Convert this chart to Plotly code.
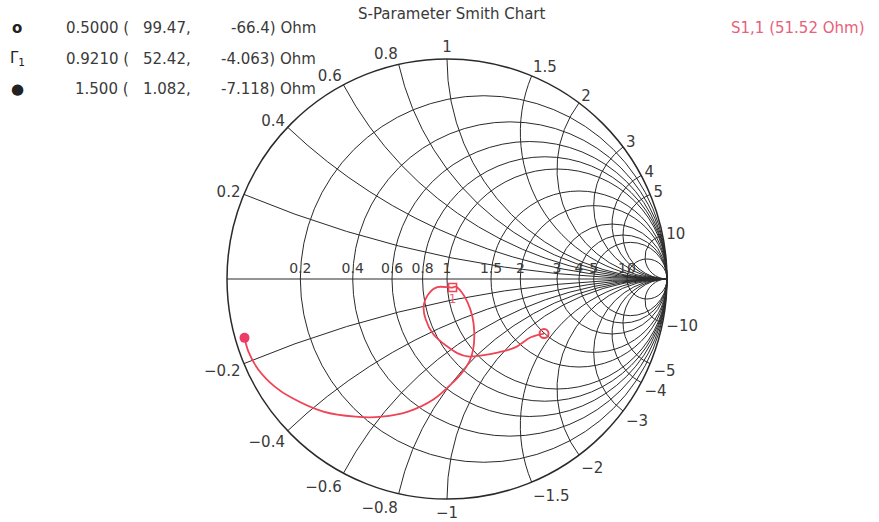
import numpy as np
import plotly.graph_objects as go

# ---------------- data ----------------
s11_re = [0.441, 0.381, 0.310, 0.235, 0.159, 0.093, 0.049, 0.000, -0.062, -0.097,
          -0.106, -0.084, -0.044, 0.024, 0.040, 0.066, 0.093, 0.115, 0.124, 0.119,
          0.102, 0.066, 0.027, -0.062, -0.177, -0.296, -0.416, -0.562, -0.708, -0.783,
          -0.858, -0.903, -0.920]
s11_im = [-0.248, -0.265, -0.311, -0.333, -0.347, -0.352, -0.338, -0.306, -0.251, -0.183,
          -0.123, -0.068, -0.037, -0.039, -0.035, -0.059, -0.105, -0.169, -0.242, -0.320,
          -0.374, -0.429, -0.470, -0.548, -0.603, -0.626, -0.626, -0.603, -0.539, -0.489,
          -0.411, -0.329, -0.267]

# markers (frequency, resistance, reactance in Ohm)
marker_freq = ["0.5000", "0.9210", "1.500"]
marker_R = [99.47, 52.42, 1.082]
marker_X = [-66.4, -4.063, -7.118]
marker_R_txt = ["99.47,", "52.42,", "1.082,"]
marker_X_txt = ["-66.4) Ohm", "-4.063) Ohm", "-7.118) Ohm"]
Z0 = 50.0

real_ticks = [0.2, 0.4, 0.6, 0.8, 1, 1.5, 2, 3, 4, 5, 10]
imag_ticks = [-10, -5, -4, -3, -2, -1.5, -1, -0.8, -0.6, -0.4, -0.2,
              0.2, 0.4, 0.6, 0.8, 1, 1.5, 2, 3, 4, 5, 10]

title_text = "S-Parameter Smith Chart"
series_text = "S1,1 (51.52 Ohm)"

# ---------------- figure ----------------
W, H = 879, 522
RED = "#ee4455"
PINK = "#e8607a"
GRID = "#2a2a2a"
TXT = "#3a3a3a"
FONT = "DejaVu Sans"
FS = 15

g = np.array(s11_re) + 1j * np.array(s11_im)
z = (1 + g) / (1 - g)

fig = go.Figure()
fig.add_trace(go.Scattersmith(real=z.real, imag=z.imag, mode="lines",
                              line=dict(color=RED, width=1.8, shape="spline", smoothing=1),
                              showlegend=False))

mr = np.array(marker_R) / Z0
mx = np.array(marker_X) / Z0
fig.add_trace(go.Scattersmith(real=[mr[0]], imag=[mx[0]], mode="markers",
                              marker=dict(symbol="circle-open", size=9, color=RED,
                                          line=dict(width=2, color=RED)),
                              showlegend=False))
fig.add_trace(go.Scattersmith(real=[mr[1]], imag=[mx[1]], mode="markers+text",
                              text=["1"], textposition="bottom center",
                              textfont=dict(color=PINK, size=12, family=FONT),
                              marker=dict(symbol="square-open", size=8, color=RED,
                                          line=dict(width=1.6, color=RED)),
                              showlegend=False))
fig.add_trace(go.Scattersmith(real=[mr[2]], imag=[mx[2]], mode="markers",
                              marker=dict(symbol="circle", size=10, color="#ec3c66"),
                              showlegend=False))

cx, cy, R = 447, 279, 220
fig.update_layout(
    width=W, height=H,
    margin=dict(l=0, r=0, t=0, b=0),
    paper_bgcolor="white",
    font=dict(family=FONT, color=TXT, size=FS),
    smith=dict(
        domain=dict(x=[(cx - R) / W, (cx + R) / W],
                    y=[1 - (cy + R) / H, 1 - (cy - R) / H]),
        bgcolor="white",
        realaxis=dict(tickvals=real_ticks, tickangle=0, gridcolor=GRID, gridwidth=1.2,
                      linecolor=GRID, linewidth=1.2, ticks="", side="top",
                      tickfont=dict(family=FONT, size=14, color=TXT)),
        imaginaryaxis=dict(tickvals=imag_ticks, gridcolor=GRID, gridwidth=1.2,
                           linecolor=GRID, linewidth=1.5, ticks="",
                           tickfont=dict(family=FONT, size=FS, color=TXT)),
    ),
)

def xp(px):
    return px / W

def yp(py):
    return 1 - py / H

# hide the automatic infinity label, which the reference chart does not show
fig.add_shape(type="rect", xref="paper", yref="paper", layer="above",
              x0=xp(cx + R + 4), x1=xp(cx + R + 30), y0=yp(cy + 12), y1=yp(cy - 12),
              fillcolor="white", line=dict(width=0))

ann = []
ann.append(dict(x=xp(452), y=yp(14), text=title_text, showarrow=False,
                font=dict(size=FS, color=TXT), xanchor="center", yanchor="middle"))
ann.append(dict(x=xp(866), y=yp(28), text=series_text, showarrow=False,
                font=dict(size=FS, color=PINK), xanchor="right", yanchor="middle"))

glyphs = ["<b>o</b>", "Γ<sub>1</sub>", "●"]
rows_y = [28, 59, 89]
for i in range(3):
    ann.append(dict(x=xp(17), y=yp(rows_y[i]), text=glyphs[i], showarrow=False,
                    font=dict(size=15, color="#222"), xanchor="center", yanchor="middle"))
    ann.append(dict(x=xp(131), y=yp(rows_y[i]), text=marker_freq[i] + " (", showarrow=False,
                    font=dict(size=FS, color=TXT), xanchor="right", yanchor="middle"))
    ann.append(dict(x=xp(193), y=yp(rows_y[i]), text=marker_R_txt[i], showarrow=False,
                    font=dict(size=FS, color=TXT), xanchor="right", yanchor="middle"))
    ann.append(dict(x=xp(318), y=yp(rows_y[i]), text=marker_X_txt[i], showarrow=False,
                    font=dict(size=FS, color=TXT), xanchor="right", yanchor="middle"))
fig.update_layout(annotations=ann)

fig.write_html("out.html", config={"displayModeBar": False},
               post_script="document.body.style.margin='0px';document.body.style.overflow='hidden';")
